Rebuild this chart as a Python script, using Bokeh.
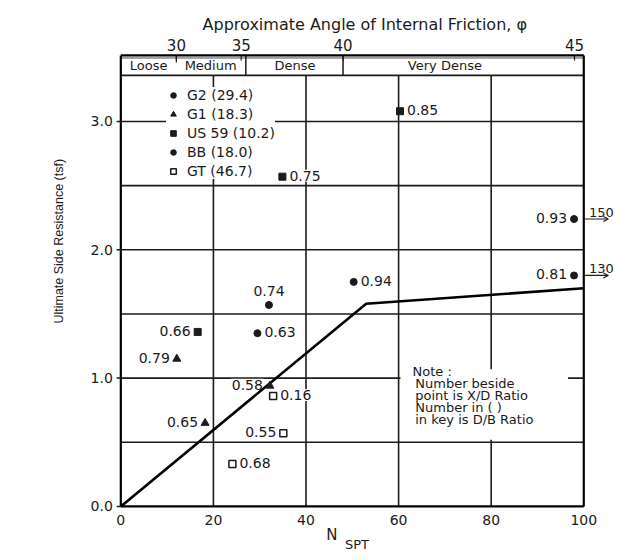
import math
from bokeh.plotting import figure
from bokeh.models import ColumnDataSource, Legend, LegendItem, Label, Arrow, OpenHead
from bokeh.core.properties import value
from bokeh.embed import file_html
from bokeh.resources import INLINE

# ---------------- data ----------------
x_ticks = [0, 20, 40, 60, 80, 100]
x_tick_labels = ["0", "20", "40", "60", "80", "100"]
y_ticks = [0, 1, 2, 3]
y_tick_labels = ["0.0", "1.0", "2.0", "3.0"]
phi_labels = ["30", "35", "40", "45"]
phi_at_n = [12, 26, 48, 98]
density_labels = ["Loose", "Medium", "Dense", "Very Dense"]
density_mid_n = [6, 19.4, 37.6, 70]
density_bounds_n = [27, 48]

series_names = ["G2 (29.4)", "G1 (18.3)", "US 59 (10.2)", "BB (18.0)", "GT (46.7)"]
g2_n = [50.3, 97.9, 97.9]
g2_r = [1.75, 2.24, 1.80]
g2_xd = ["0.94", "0.93", "0.81"]
g1_n = [12.1, 32.2, 18.2]
g1_r = [1.15, 0.94, 0.65]
g1_xd = ["0.79", "0.58", "0.65"]
us59_n = [60.3, 34.9, 16.6]
us59_r = [3.08, 2.57, 1.36]
us59_xd = ["0.85", "0.75", "0.66"]
bb_n = [32.0, 29.5]
bb_r = [1.57, 1.35]
bb_xd = ["0.74", "0.63"]
gt_n = [32.9, 35.1, 24.1]
gt_r = [0.86, 0.57, 0.33]
gt_xd = ["0.16", "0.55", "0.68"]

off_scale_labels = ["150", "130"]   # actual N of the two G2 points drawn at the edge

trend_n = [0, 53, 100]
trend_r = [0, 1.58, 1.70]

note_lines = ["Note :", "Number beside", "point is X/D Ratio", "Number in ( )", "in key is D/B Ratio"]

# label placement style (r = right, l = left, t = top)
g2_side = ["r", "l", "l"]
g1_side = ["l", "l", "l"]
us59_side = ["r", "r", "l"]
bb_side = ["t", "r"]
gt_side = ["r", "l", "r"]

# ---------------- style ----------------
FONT = "DejaVu Sans"
INK = "#1b1b1b"
R_TOP = 3.515
BAND_BOT = 3.36

p = figure(width=618, height=552, x_range=(-25.99, 107.5), y_range=(-0.359, 3.943),
           output_backend="svg", toolbar_location=None,
           min_border_left=0, min_border_right=0, min_border_top=0, min_border_bottom=0)
p.grid.visible = False
p.outline_line_color = None
p.background_fill_color = "white"
p.border_fill_color = "white"
p.xaxis.visible = False
p.yaxis.visible = False

# grid lines (stop at the density band)
h_levels = [0.5, 1.0, 1.5, 2.0, 2.5, 3.0]
p.segment(x0=[0] * len(h_levels), x1=[100] * len(h_levels), y0=h_levels, y1=h_levels,
          line_color=INK, line_width=1.6)
v_levels = x_ticks[1:-1]
p.segment(x0=v_levels, x1=v_levels, y0=[0] * len(v_levels), y1=[BAND_BOT] * len(v_levels),
          line_color=INK, line_width=1.6)

# density band
p.segment(x0=[0], x1=[100], y0=[BAND_BOT], y1=[BAND_BOT], line_color=INK, line_width=1.8)
p.segment(x0=[0], x1=[100], y0=[3.495], y1=[3.495], line_color=INK, line_width=0.8)
p.segment(x0=density_bounds_n, x1=density_bounds_n, y0=[BAND_BOT] * 2, y1=[R_TOP] * 2,
          line_color=INK, line_width=1.5)
p.segment(x0=[phi_at_n[0]], x1=[phi_at_n[0]], y0=[3.46], y1=[R_TOP], line_color=INK, line_width=1.2)
p.text(x=density_mid_n, y=[(BAND_BOT + R_TOP) / 2] * 4, text=density_labels,
       text_align="center", text_baseline="middle", text_font=value(FONT),
       text_font_size="13px", text_color=INK)

# top (friction angle) scale
p.segment(x0=phi_at_n, x1=phi_at_n, y0=[R_TOP] * 4, y1=[R_TOP - 0.04] * 4,
          line_color=INK, line_width=1.2)
p.text(x=phi_at_n, y=[R_TOP] * 4, text=phi_labels, y_offset=-10, text_align="center",
       text_baseline="middle", text_font=value(FONT), text_font_size="15px", text_color=INK)
p.text(x=[52.7], y=[R_TOP], text=["Approximate Angle of Internal Friction, \u03c6"],
       y_offset=-31, text_align="center", text_baseline="middle", text_font=value(FONT),
       text_font_size="16px", text_color=INK)

# note box
p.quad(left=[60.4], right=[96.6], bottom=[0.52], top=[1.07], fill_color="white", line_color=None)
note_y = [1.05, 0.957, 0.865, 0.768, 0.678]
note_x = [63.0, 63.6, 63.6, 63.6, 63.6]
p.text(x=note_x, y=note_y, text=note_lines, text_align="left", text_baseline="middle",
       text_font=value(FONT), text_font_size="13px", text_color=INK)

# data labels
def label_source(xs, ys, texts, sides):
    align = {"r": "left", "l": "right", "t": "center"}
    dx = {"r": 6, "l": -6, "t": 0}
    dy = {"r": -1, "l": -1, "t": -14}
    return ColumnDataSource(dict(x=xs, y=ys, text=texts,
                                 align=[align[s] for s in sides],
                                 dx=[dx[s] for s in sides],
                                 dy=[dy[s] for s in sides]))

for xs, ys, texts, sides in [(g2_n, g2_r, g2_xd, g2_side), (g1_n, g1_r, g1_xd, g1_side),
                             (us59_n, us59_r, us59_xd, us59_side), (bb_n, bb_r, bb_xd, bb_side),
                             (gt_n, gt_r, gt_xd, gt_side)]:
    src = label_source(xs, ys, texts, sides)
    p.text(x="x", y="y", text="text", source=src, text_align="align", x_offset="dx",
           y_offset="dy", text_baseline="middle", text_font=value(FONT),
           text_font_size="14px", text_color=INK, background_fill_color="white",
           padding=1)

# design line
p.line(trend_n, trend_r, line_color="black", line_width=2.6)

# markers
r_g2 = p.scatter(g2_n, g2_r, marker="circle", size=7, fill_color=INK, line_color=INK)
r_g1 = p.scatter(g1_n, g1_r, marker="triangle", size=8, fill_color=INK, line_color=INK)
r_us = p.scatter(us59_n, us59_r, marker="square", size=7, fill_color=INK, line_color=INK)
r_bb = p.scatter(bb_n, bb_r, marker="circle", size=7, fill_color=INK, line_color=INK)
r_gt = p.scatter(gt_n, gt_r, marker="square", size=7, fill_color="white", line_color=INK,
                 line_width=1.5)

# frame
p.segment(x0=[0, 100, 0, 0], x1=[0, 100, 100, 100], y0=[0, 0, 0, R_TOP], y1=[R_TOP, R_TOP, 0, R_TOP],
          line_color="black", line_width=2.2)

# left ticks, tick labels and axis title
p.segment(x0=[-0.9] * len(y_ticks), x1=[0] * len(y_ticks), y0=y_ticks, y1=y_ticks,
          line_color=INK, line_width=1.5)
p.text(x=[0] * len(y_ticks), y=y_ticks, text=y_tick_labels, x_offset=-8,
       text_align="right", text_baseline="middle", text_font=value(FONT),
       text_font_size="14px", text_color=INK)
p.text(x=[-13.4], y=[2.02], text=["Ultimate Side Resistance (tsf)"], angle=math.pi / 2,
       y_offset=-6, text_align="center", text_baseline="middle",
       text_font=value("Liberation Sans"), text_font_size="12.5px", text_color=INK)

# bottom tick labels and axis title (N with SPT subscript)
p.text(x=x_ticks, y=[0] * len(x_ticks), text=x_tick_labels, y_offset=14,
       text_align="center", text_baseline="middle", text_font=value(FONT),
       text_font_size="14px", text_color=INK)
p.text(x=[45.6], y=[0], text=["N"], y_offset=29, text_align="center", text_baseline="middle",
       text_font=value(FONT), text_font_size="15px", text_color=INK)
p.text(x=[51.0], y=[0], text=["SPT"], y_offset=38, text_align="center", text_baseline="middle",
       text_font=value(FONT), text_font_size="13px", text_color=INK)

# off-scale arrows for the two edge points
for yv, lab in zip(g2_r[1:], off_scale_labels):
    p.add_layout(Arrow(x_start=100, y_start=yv, x_end=105.3, y_end=yv,
                       line_color=INK, line_width=1.2,
                       end=OpenHead(size=5, line_color=INK, line_width=1.2)))
    p.add_layout(Label(x=103.8, y=yv, y_offset=7, text=lab, text_align="center",
                       text_baseline="middle", text_font=FONT, text_font_size="13px",
                       text_color=INK))

# legend (location is relative to the frame's bottom-left corner)
legend = Legend(items=[LegendItem(label=n, renderers=[r]) for n, r in
                       zip(series_names, [r_g2, r_g1, r_us, r_bb, r_gt])],
                location=(166, 373), orientation="vertical",
                background_fill_color="white", background_fill_alpha=1.0,
                border_line_color=None, label_text_font=FONT, label_text_font_size="14px",
                label_text_color=INK, glyph_width=14, glyph_height=14, label_height=14,
                spacing=3, padding=2, margin=0, label_standoff=7)
p.add_layout(legend)

open("out.html", "w").write(file_html(p, INLINE))
